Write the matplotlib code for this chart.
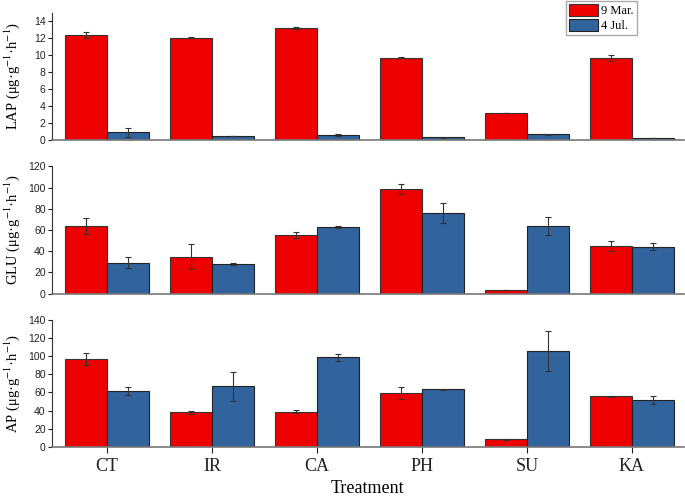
import numpy as np
import matplotlib.pyplot as plt

plt.rcParams['mathtext.fontset'] = 'stix'

treatments = ['CT', 'IR', 'CA', 'PH', 'SU', 'KA']

lap_mar = [12.35, 12.04, 13.14, 9.69, 3.14, 9.6]
lap_mar_err = [0.4, 0.05, 0.1, 0.02, 0.02, 0.35]
lap_jul = [0.9, 0.5, 0.62, 0.31, 0.67, 0.27]
lap_jul_err = [0.5, 0.03, 0.1, 0.02, 0.05, 0.02]

glu_mar = [63.5, 34.9, 55.3, 98.7, 3.5, 45.0]
glu_mar_err = [7.5, 11.6, 2.8, 4.4, 0.2, 4.4]
glu_jul = [29.2, 28.0, 62.5, 75.8, 63.8, 44.3]
glu_jul_err = [5.0, 1.0, 0.8, 9.4, 8.8, 3.2]

ap_mar = [96.9, 38.0, 38.7, 59.0, 8.1, 55.7]
ap_mar_err = [6.3, 1.5, 2.0, 6.6, 0.3, 0.5]
ap_jul = [61.9, 66.7, 98.8, 63.4, 105.4, 51.6]
ap_jul_err = [4.4, 16.2, 3.6, 0.5, 22.0, 4.0]

red = '#EE0000'
blue = '#31639C'
w = 0.4
x = np.arange(len(treatments))

fig = plt.figure(figsize=(6.85, 4.97), dpi=100)

panels = [
    ('LAP', lap_mar, lap_mar_err, lap_jul, lap_jul_err, 15, [0, 2, 4, 6, 8, 10, 12, 14], [0.0759, 0.7183, 0.9226, 0.2565]),
    ('GLU', glu_mar, glu_mar_err, glu_jul, glu_jul_err, 120, [0, 20, 40, 60, 80, 100, 120], [0.0759, 0.4091, 0.9226, 0.2563]),
    ('AP', ap_mar, ap_mar_err, ap_jul, ap_jul_err, 140, [0, 20, 40, 60, 80, 100, 120, 140], [0.0759, 0.1012, 0.9226, 0.2549]),
]

axes = []
for name, m, me, j, je, top, ticks, pos in panels:
    ax = fig.add_axes(pos)
    ek = dict(ecolor='#333333', elinewidth=0.8, capsize=2.5, capthick=0.8)
    ax.bar(x - w / 2, m, w, yerr=me, color=red, edgecolor='#333333', linewidth=0.8,
           error_kw=ek, label='9 Mar.')
    ax.bar(x + w / 2, j, w, yerr=je, color=blue, edgecolor='#222222', linewidth=0.8,
           error_kw=ek, label='4 Jul.')
    ax.set_xlim(-0.524, 5.495)
    ax.set_ylim(0, top)
    ax.set_yticks(ticks)
    for t in ax.get_yticklabels():
        t.set_fontfamily('Liberation Sans')
        t.set_fontsize(7.5)
    ax.tick_params(axis='y', length=3, width=0.8, pad=1.5, colors='#222222')
    ax.spines['top'].set_visible(False)
    ax.spines['right'].set_visible(False)
    ax.spines['left'].set_color('#333333')
    ax.spines['bottom'].set_color('#777777')
    ax.spines['bottom'].set_linewidth(1.2)
    ax.set_ylabel(name + r' (μg·g$^{-1}$·h$^{-1}$)', fontfamily='Liberation Serif', fontsize=10.5)
    ax.yaxis.set_label_coords(-0.047, 0.5)
    axes.append(ax)

for ax in axes[:2]:
    ax.set_xticks([])
ax = axes[2]
ax.set_xticks(x)
ax.set_xticklabels(treatments, fontfamily='Liberation Serif', fontsize=13)
ax.tick_params(axis='x', length=4, width=0.8, pad=4, colors='#222222')
ax.set_xlabel('Treatment', fontfamily='Liberation Serif', fontsize=13, labelpad=4)

h, l = axes[0].get_legend_handles_labels()
fig.legend(h, l, loc='upper left', bbox_to_anchor=(0.827, 0.997), fancybox=False,
           edgecolor='#aaaaaa', framealpha=1, prop={'family': 'Liberation Serif', 'size': 9},
           handlelength=2.3, handleheight=1.1, borderpad=0.2, labelspacing=0.15,
           handletextpad=0.3, borderaxespad=0)

fig.savefig('out.png', dpi=100)
